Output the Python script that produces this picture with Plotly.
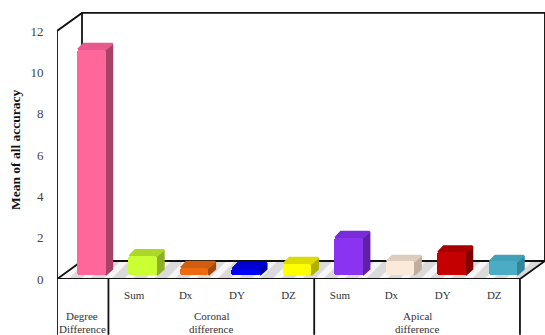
import plotly.graph_objects as go

# Mean accuracy per measurement
tick_labels = ["", "Sum", "Dx", "DY", "DZ", "Sum", "Dx", "DY", "DZ"]
values = [10.9, 0.92, 0.35, 0.3, 0.55, 1.8, 0.65, 1.1, 0.65]
front_colors = ["#FF6699", "#CCFF33", "#EE6A10", "#0000FF", "#FFFF00",
                "#8A33F0", "#FBE9DA", "#C40000", "#4BACC6"]
side_colors = ["#A84068", "#8DB024", "#A34A0C", "#0000A8", "#B0B000",
               "#6020A8", "#BFAEA0", "#800000", "#31859C"]
top_colors = ["#E85A8E", "#ABD82A", "#D05E0E", "#0000D0", "#DCDC00",
              "#7A2CD8", "#DCCDBF", "#A80000", "#42A0B8"]
group_lines = [("Degree", "Difference"), ("Coronal", "difference"), ("Apical", "difference")]
group_centers = [0.49, 3.0, 7.0]
group_edges = [0, 1, 5, 9]

# Scale of the plotting area
PX_X = 51.44
PX_Y = 20.67
PLOT_H = 279
X_MAX = 488 / PX_X
Y_MAX = PLOT_H / PX_Y

# Pseudo-3D geometry in data units
BAR_OFFSET = 0.666
BAR_WIDTH = 0.555
FLOOR_LIFT = 0.2
DEPTH_X = 0.13
DEPTH_Y = 0.28
WALL_X = 25 / PX_X
WALL_Y = 18 / PX_Y
Y_TOP = 12

fig = go.Figure()

# Hatched floor
fig.add_trace(go.Scatter(
    x=[0, 9, 9 + WALL_X, WALL_X, 0], y=[0, 0, WALL_Y, WALL_Y, 0],
    mode="lines", fill="toself", line=dict(color="rgba(0,0,0,0)", width=0),
    fillcolor="#F6F6F6",
    fillpattern=dict(shape="/", fgcolor="#BDBDBD", bgcolor="#F6F6F6", size=15, solidity=0.6),
    hoverinfo="skip", showlegend=False,
))

# Walls and floor outline
wall_paths = [
    ([0, 0, WALL_X, 9 + WALL_X, 9 + WALL_X], [0, Y_TOP, Y_TOP + WALL_Y, Y_TOP + WALL_Y, WALL_Y]),
    ([WALL_X, WALL_X], [WALL_Y, Y_TOP + WALL_Y]),
    ([0, WALL_X, 9 + WALL_X, 9, 0], [0, WALL_Y, WALL_Y, 0, 0]),
]
for xs, ys in wall_paths:
    fig.add_trace(go.Scatter(x=xs, y=ys, mode="lines", line=dict(color="#111111", width=1.8),
                             hoverinfo="skip", showlegend=False))

# Side and top faces derived from each value sit behind the front faces
lefts = [i + BAR_OFFSET - BAR_WIDTH / 2 for i in range(len(values))]
for left, val, side, top in zip(lefts, values, side_colors, top_colors):
    right = left + BAR_WIDTH
    upper = FLOOR_LIFT + val
    fig.add_trace(go.Scatter(
        x=[right, right + DEPTH_X, right + DEPTH_X, right, right],
        y=[FLOOR_LIFT, FLOOR_LIFT + DEPTH_Y, upper + DEPTH_Y, upper, FLOOR_LIFT],
        mode="lines", fill="toself", fillcolor=side, line=dict(color=side, width=2),
        xaxis="x2", yaxis="y2", hoverinfo="skip", showlegend=False,
    ))
    fig.add_trace(go.Scatter(
        x=[left + 0.02, left + DEPTH_X, right + DEPTH_X, right, left + 0.02],
        y=[upper, upper + DEPTH_Y, upper + DEPTH_Y, upper, upper],
        mode="lines", fill="toself", fillcolor=top, line=dict(color=top, width=2),
        xaxis="x2", yaxis="y2", hoverinfo="skip", showlegend=False,
    ))

# Front faces of the bars
fig.add_trace(go.Bar(
    x=[i + BAR_OFFSET for i in range(len(values))], y=values, base=FLOOR_LIFT,
    width=BAR_WIDTH, marker=dict(color=front_colors, line_width=0, cornerradius=3),
    xaxis="x3", yaxis="y3", showlegend=False,
))

# Dividers of the category table under the floor
shapes = [
    dict(type="line", xref="x", yref="paper", x0=e, x1=e, y0=0, y1=-0.2,
         line=dict(color="#111111", width=1.8))
    for e in group_edges
]

annotations = []
for center, (first, second) in zip(group_centers, group_lines):
    for line, shift in ((first, -37), (second, -50)):
        annotations.append(dict(
            x=center, xref="x", y=0, yref="paper", yanchor="middle", yshift=shift,
            text=line, showarrow=False,
            font=dict(family="Liberation Serif", size=11, color="#333333"),
        ))
annotations.append(dict(
    x=-42 / 488, xref="paper", xanchor="center",
    y=(PLOT_H - 150) / PLOT_H, yref="paper", yanchor="middle", textangle=-90,
    text="<b>Mean of all accuracy</b>", showarrow=False,
    font=dict(family="Liberation Serif", size=13.5, color="#111111"),
))

axis_hidden = dict(showgrid=False, zeroline=False, showticklabels=False, ticks="")
fig.update_layout(
    width=545, height=335, autosize=False,
    margin=dict(l=57, r=0, t=0, b=56, autoexpand=False),
    paper_bgcolor="white", plot_bgcolor="white",
    bargap=0, shapes=shapes, annotations=annotations,
    xaxis=dict(range=[0, X_MAX], showgrid=False, zeroline=False, showline=False,
               tickvals=[i + 0.5 for i in range(9)], ticktext=tick_labels,
               ticks="outside", ticklen=6, tickcolor="rgba(0,0,0,0)", tickangle=0,
               tickfont=dict(family="Liberation Serif", size=11, color="#333333")),
    yaxis=dict(range=[0, Y_MAX], showgrid=False, zeroline=False, showline=False,
               tickvals=[0, 2, 4, 6, 8, 10, 12],
               ticks="outside", ticklen=10, tickcolor="rgba(0,0,0,0)",
               tickfont=dict(family="Liberation Serif", size=13, color="#444444")),
    xaxis2=dict(range=[0, X_MAX], overlaying="x", **axis_hidden),
    yaxis2=dict(range=[0, Y_MAX], overlaying="y", **axis_hidden),
    xaxis3=dict(range=[0, X_MAX], overlaying="x", **axis_hidden),
    yaxis3=dict(range=[0, Y_MAX], overlaying="y", **axis_hidden),
)

fig.write_html("out.html", config=dict(displayModeBar=False))
